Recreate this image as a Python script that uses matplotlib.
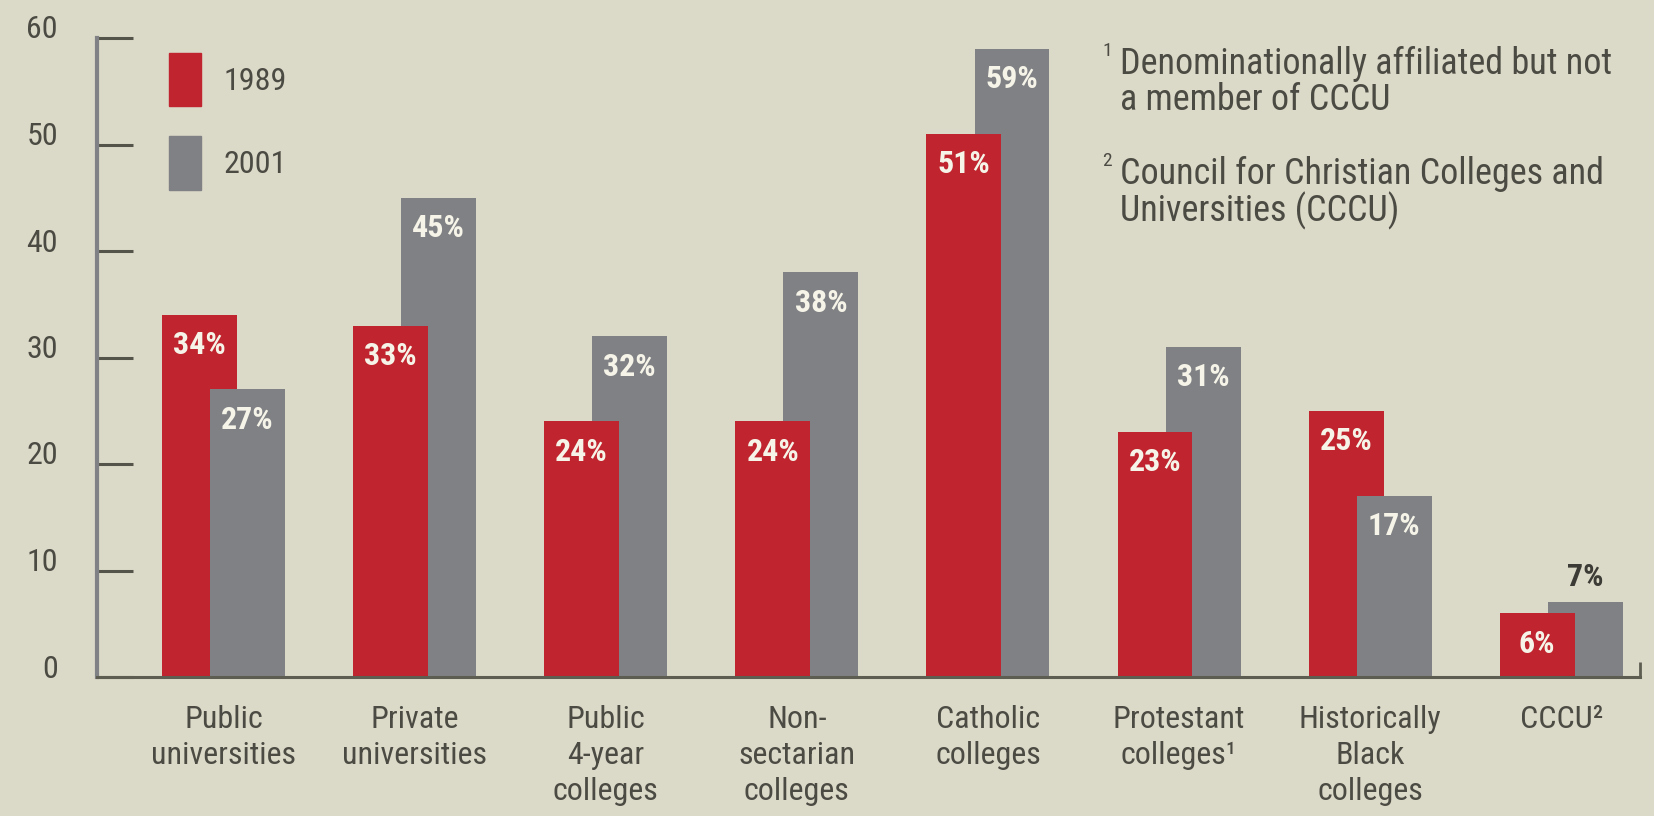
import matplotlib
matplotlib.use('Agg')
import matplotlib.pyplot as plt
from matplotlib.transforms import ScaledTranslation
import numpy as np

# Share of students in each kind of institution, 1989 vs 2001
categories = ['Public\nuniversities', 'Private\nuniversities', 'Public\n4-year\ncolleges',
              'Non-\nsectarian\ncolleges', 'Catholic\ncolleges', 'Protestant\ncolleges\u00b9',
              'Historically\nBlack\ncolleges', 'CCCU\u00b2']
values_1989 = [34, 33, 24, 24, 51, 23, 25, 6]
values_2001 = [27, 45, 32, 38, 59, 31, 17, 7]
series_names = ['1989', '2001']
yticks = [0, 10, 20, 30, 40, 50, 60]

notes = ['Denominationally affiliated but not\na member of CCCU',
         'Council for Christian Colleges and\nUniversities (CCCU)']

bg = '#dbd9c8'
red = '#c0242e'
grey = '#7f8185'
ink = '#4c4b43'
label_white = '#f6f4e8'

plt.rcParams['font.family'] = ['Roboto Condensed', 'Archivo Narrow', 'PT Sans Narrow',
                               'IBM Plex Sans Condensed', 'DejaVu Sans']

fig = plt.figure(figsize=(16.54, 8.16), dpi=100, facecolor=bg)
ax = fig.add_axes([97 / 1654, 1 - 677 / 816, (1640 - 97) / 1654, (677 - 38) / 816])
ax.set_facecolor(bg)

x = np.arange(len(categories))
width = 0.392
offset = 0.126

for i in range(len(categories)):
    v1, v2 = values_1989[i], values_2001[i]
    # the shorter bar sits in front of the taller one
    z1, z2 = (3, 2) if v1 <= v2 else (2, 3)
    ax.bar(x[i] - offset, v1, width, color=red, zorder=z1, linewidth=0)
    ax.bar(x[i] + offset, v2, width, color=grey, zorder=z2, linewidth=0)

    for xv, v, z in [(x[i] - offset, v1, z1), (x[i] + offset, v2, z2)]:
        if v >= 10 or xv < x[i]:
            ax.text(xv, v - 1.45, f'{v}%', ha='center', va='top', color=label_white,
                    fontsize=23, fontweight='bold', zorder=z + 0.5)
        else:
            ax.text(xv, v + 1.0, f'{v}%', ha='center', va='bottom', color='#3c3b35',
                    fontsize=23, fontweight='bold', zorder=z + 0.5)

ax.set_xlim(-0.662, 7.412)
ax.set_ylim(0, 60)

for s in ['top', 'right']:
    ax.spines[s].set_visible(False)
ax.spines['left'].set_color(grey)
ax.spines['left'].set_linewidth(3)
ax.spines['bottom'].set_color('#5e5d52')
ax.spines['bottom'].set_linewidth(2.2)
ax.spines['left'].set_zorder(5)
ax.spines['bottom'].set_zorder(5)

ax.set_yticks(yticks)
ax.set_yticklabels([str(t) for t in yticks])
ax.tick_params(axis='y', direction='in', length=26, width=2.2, color='#55544a',
               pad=28, labelsize=23, labelcolor=ink)
for lab in ax.get_yticklabels():
    lab.set_transform(lab.get_transform() + ScaledTranslation(0, 0.11, fig.dpi_scale_trans))

ax.set_xticks(x)
ax.set_xticklabels(categories, fontsize=23, color=ink, linespacing=1.32)
ax.tick_params(axis='x', length=0, pad=20)
ax.set_xticks([7.412], minor=True)
ax.tick_params(axis='x', which='minor', direction='in', length=11, width=2, color='#5e5d52')

# legend with tall swatches
handles = [plt.Rectangle((0, 0), 1, 1, color=red), plt.Rectangle((0, 0), 1, 1, color=grey)]
fig.legend(handles, series_names, loc='upper left', bbox_to_anchor=(169 / 1654, 1 - 53 / 816),
           frameon=False, fontsize=23, handlelength=1.0, handleheight=2.18,
           labelspacing=0.95, handletextpad=0.7, borderpad=0, borderaxespad=0,
           labelcolor=ink)

# footnotes
note_y = [61, 171]
for k, (txt, yy) in enumerate(zip(notes, note_y)):
    fig.text(1102 / 1654, 1 - (yy - 10) / 816, str(k + 1), fontsize=14, color=ink, ha='left', va='center')
    fig.text(1120 / 1654, 1 - (yy - 15) / 816, txt, fontsize=26, color=ink, ha='left', va='top',
             linespacing=1.0)

fig.savefig('out.png', dpi=100, facecolor=bg)
